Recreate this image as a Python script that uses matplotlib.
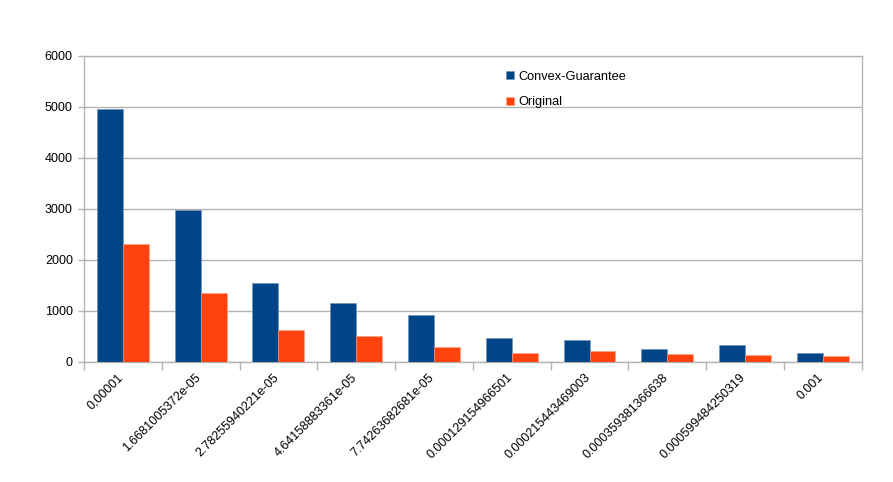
import numpy as np
import matplotlib
matplotlib.use('Agg')
import matplotlib.pyplot as plt
import matplotlib.transforms as mtransforms
from matplotlib.ticker import FixedLocator

plt.rcParams['font.family'] = ['Liberation Sans', 'DejaVu Sans']

# Data
categories = ['0,00001', '1.6681005372e-05', '2.78255940221e-05', '4.64158883361e-05',
              '7.74263682681e-05', '0.000129154966501', '0.000215443469003',
              '0.000359381366638', '0.000599484250319', '0.001']
convex_guarantee = [4950, 2985, 1550, 1160, 922, 478, 426, 262, 328, 177]
original = [2305, 1348, 635, 517, 295, 171, 222, 151, 144, 111]

fig = plt.figure(figsize=(8.93, 4.82), dpi=100)
ax = fig.add_axes([0.094, 0.249, 0.871, 0.635])

x = np.arange(len(categories))
w = 0.334
ax.bar(x - w / 2, convex_guarantee, width=w, color='#004586', label='Convex-Guarantee',
       edgecolor='#6f8fb8', linewidth=0.4, zorder=3)
ax.bar(x + w / 2, original, width=w, color='#ff420e', label='Original',
       edgecolor='#ffa080', linewidth=0.4, zorder=3)

ax.set_xlim(-0.5, len(categories) - 0.5)
ax.set_ylim(0, 6000)
ax.set_yticks(range(0, 6001, 1000))
ax.yaxis.grid(True, color='#b3b3b3', linewidth=1, zorder=0)

# tick marks on category borders, labels on centers
ax.set_xticks(x)
ax.set_xticklabels(categories, rotation=45, ha='right', fontsize=9)
ax.tick_params(axis='x', which='major', length=0, pad=7)
ax.xaxis.set_minor_locator(FixedLocator(np.arange(-0.5, len(categories), 1)))
ax.tick_params(axis='x', which='minor', length=6, color='#b3b3b3', width=1)
ax.tick_params(axis='y', length=4, color='#b3b3b3', width=1, labelsize=9, pad=4)
shift = mtransforms.ScaledTranslation(3 / 100, 0, fig.dpi_scale_trans)
for lab in ax.get_xticklabels():
    lab.set_transform(lab.get_transform() + shift)

for s in ax.spines.values():
    s.set_color('#b3b3b3')
    s.set_linewidth(1)

fig.legend(loc='upper left', bbox_to_anchor=(0.567, 0.853), frameon=False, fontsize=9.2,
           handlelength=0.6, handleheight=0.6, handletextpad=0.35, labelspacing=1.05,
           borderaxespad=0, borderpad=0)

fig.savefig('out.png', dpi=100)
